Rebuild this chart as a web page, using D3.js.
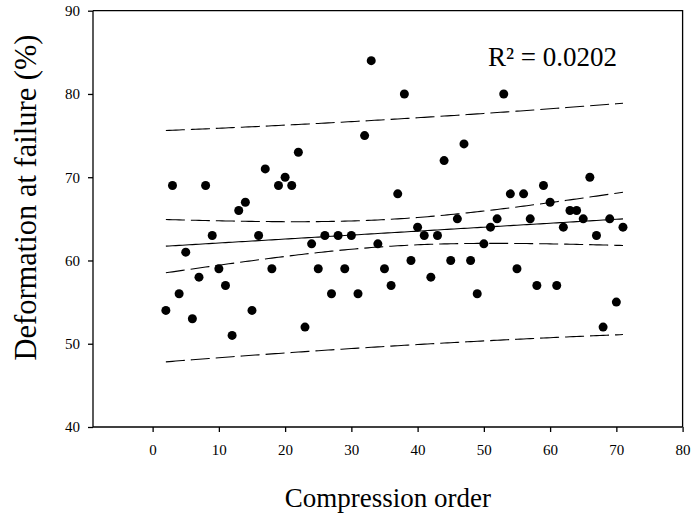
<!DOCTYPE html>
<html>
<head>
<meta charset="utf-8">
<script src="https://cdn.jsdelivr.net/npm/d3@7/dist/d3.min.js"></script>
<style>
  html, body { margin: 0; padding: 0; background: #fff; }
  svg { display: block; }
  text { font-family: "Liberation Serif", "Times New Roman", serif; fill: #000; }
</style>
</head>
<body>
<svg id="chart" width="692" height="519"></svg>
<script>
// Compression order of each specimen
const order = [
   2,  3,  4,  5,  6,  7,  8,  9, 10, 11,
  12, 13, 14, 15, 16, 17, 18, 19, 20, 21,
  22, 23, 24, 25, 26, 27, 28, 29, 30, 31,
  32, 33, 34, 35, 36, 37, 38, 39, 40, 41,
  42, 43, 44, 45, 46, 47, 48, 49, 50, 51,
  52, 53, 54, 55, 56, 57, 58, 59, 60, 61,
  62, 63, 64, 65, 66, 67, 68, 69, 70, 71
];
// Deformation at failure (%) for each specimen
const deformation = [
  54, 69, 56, 61, 53, 58, 69, 63, 59, 57,
  51, 66, 67, 54, 63, 71, 59, 69, 70, 69,
  73, 52, 62, 59, 63, 56, 63, 59, 63, 56,
  75, 84, 62, 59, 57, 68, 80, 60, 64, 63,
  58, 63, 72, 60, 65, 74, 60, 56, 62, 64,
  65, 80, 68, 59, 68, 65, 57, 69, 67, 57,
  64, 66, 66, 65, 70, 63, 52, 65, 55, 64
];
const xTicks = [0, 10, 20, 30, 40, 50, 60, 70, 80];
const yTicks = [40, 50, 60, 70, 80, 90];
const xDomain = [-9, 80];
const yDomain = [40, 90];
const rSquaredLabel = "R\u00B2 = 0.0202";
const xTitle = "Compression order";
const yTitle = "Deformation at failure (%)";

const svg = d3.select("#chart");
const plotL = 93, plotR = 682.6, plotT = 10.7, plotB = 427;

const x = d3.scaleLinear().domain(xDomain).range([plotL, plotR]);
const y = d3.scaleLinear().domain(yDomain).range([plotB, plotT]);

// Ordinary least squares fit with 95% confidence and prediction bands
const n = order.length;
const mx = d3.mean(order), my = d3.mean(deformation);
const sxx = d3.sum(order, v => (v - mx) ** 2);
const sxy = d3.sum(order, (v, i) => (v - mx) * (deformation[i] - my));
const slope = sxy / sxx, intercept = my - slope * mx;
const sse = d3.sum(order, (v, i) => (deformation[i] - (intercept + slope * v)) ** 2);
const s = Math.sqrt(sse / (n - 2));
const tCrit = 1.995; // t(0.975, df = 68)
const xs = d3.range(d3.min(order), d3.max(order) + 0.001, 0.5);
const fit = v => intercept + slope * v;
const ciHalf = v => tCrit * s * Math.sqrt(1 / n + (v - mx) ** 2 / sxx);
const piHalf = v => tCrit * s * Math.sqrt(1 + 1 / n + (v - mx) ** 2 / sxx);

const line = d3.line().x(d => x(d[0])).y(d => y(d[1]));

const g = svg.append("g");

// Regression line
g.append("path")
  .attr("d", line(xs.map(v => [v, fit(v)])))
  .attr("fill", "none").attr("stroke", "#000").attr("stroke-width", 1.1);

// Confidence and prediction bands
const bands = [
  xs.map(v => [v, fit(v) + ciHalf(v)]),
  xs.map(v => [v, fit(v) - ciHalf(v)]),
  xs.map(v => [v, fit(v) + piHalf(v)]),
  xs.map(v => [v, fit(v) - piHalf(v)])
];
g.selectAll("path.band").data(bands).join("path")
  .attr("class", "band")
  .attr("d", line)
  .attr("fill", "none").attr("stroke", "#000").attr("stroke-width", 1.1)
  .attr("stroke-dasharray", "19,6");

// Data points
g.selectAll("circle").data(order).join("circle")
  .attr("cx", d => x(d))
  .attr("cy", (d, i) => y(deformation[i]))
  .attr("r", 4.5)
  .attr("fill", "#000");

// Frame (top and right borders)
svg.append("path")
  .attr("d", `M${plotL},${plotT}H${plotR}V${plotB}`)
  .attr("fill", "none").attr("stroke", "#000").attr("stroke-width", 1.3);

// Axes
const xAxis = d3.axisBottom(x).tickValues(xTicks).tickSize(5).tickPadding(12).tickSizeOuter(0);
const yAxis = d3.axisLeft(y).tickValues(yTicks).tickSize(5).tickPadding(8).tickSizeOuter(0);

const gx = svg.append("g").attr("transform", `translate(0,${plotB})`).call(xAxis);
const gy = svg.append("g").attr("transform", `translate(${plotL},0)`).call(yAxis);
[gx, gy].forEach(a => {
  a.select(".domain").attr("stroke", "#000").attr("stroke-width", 1.3);
  a.selectAll(".tick line").attr("stroke", "#000").attr("stroke-width", 1.3);
  a.selectAll(".tick text").attr("font-size", 15).attr("font-family", "Liberation Serif").attr("fill", "#000");
});
gx.select(".domain").attr("d", `M${plotL},0H${plotR}`);
gy.select(".domain").attr("d", `M0,${plotB}V${plotT}`);

// Titles
svg.append("text")
  .attr("x", (plotL + plotR) / 2).attr("y", 507)
  .attr("text-anchor", "middle").attr("font-size", 27)
  .text(xTitle);

svg.append("text")
  .attr("transform", "translate(36,197.5) rotate(-90)")
  .attr("text-anchor", "middle").attr("font-size", 30.5)
  .text(yTitle);

svg.append("text")
  .attr("x", 488).attr("y", 66)
  .attr("font-size", 27)
  .text(rSquaredLabel);
</script>
</body>
</html>
